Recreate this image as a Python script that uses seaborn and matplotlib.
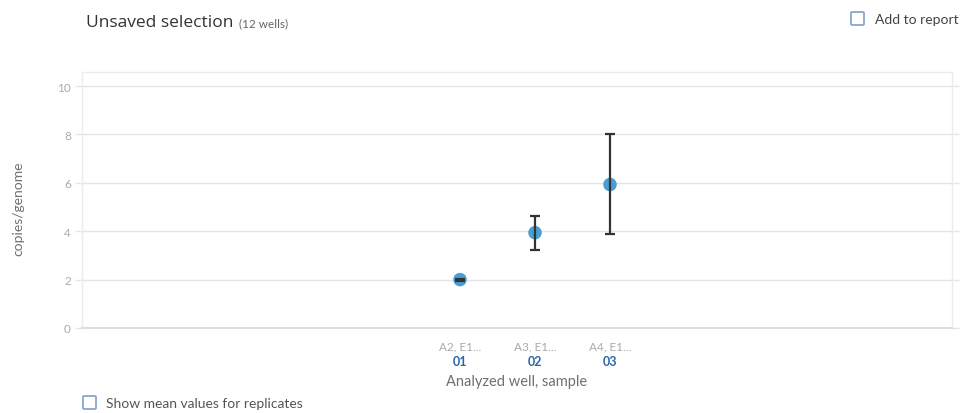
import numpy as np
import matplotlib.pyplot as plt
import seaborn as sns
import pandas as pd
from matplotlib.patches import FancyBboxPatch

# values
wells = ["A2, E1...", "A3, E1...", "A4, E1..."]
samples = ["01", "02", "03"]
copies = [2.0, 3.94, 5.93]
err_low = [1.96, 3.22, 3.87]
err_high = [2.04, 4.64, 8.02]
y_ticks = [0, 2, 4, 6, 8, 10]

df = pd.DataFrame({"well": wells, "sample": samples, "copies": copies})

sns.set_theme(style="white")
plt.rcParams['font.family'] = ['Lato', 'DejaVu Sans']

fig = plt.figure(figsize=(9.62, 4.14), dpi=100)
ax = fig.add_axes([82 / 962, 1 - 329 / 414, (952 - 82) / 962, (329 - 73) / 414])

pos = np.arange(len(wells))
sns.scatterplot(data=df, x=pos, y="copies", ax=ax, s=95, color="#4a9ed2",
                edgecolor="none", zorder=3, legend=False)
yerr = np.array([np.array(copies) - np.array(err_low),
                 np.array(err_high) - np.array(copies)])
ax.errorbar(pos, copies, yerr=yerr, fmt="none", ecolor="#333333",
            elinewidth=1.6, capsize=3.5, capthick=1.6, zorder=4)

ax.set_xlim(-5.04, 6.56)
ax.set_ylim(0, 10.58)
ax.set_yticks(y_ticks)
ax.set_yticklabels([str(t) for t in y_ticks])
ax.grid(axis="y", color="#e4e4ea", linewidth=1)
ax.set_axisbelow(True)
for side in ["left", "right", "top"]:
    ax.spines[side].set_color("#ececf0")
    ax.spines[side].set_linewidth(1)
ax.spines["bottom"].set_color("#dcdce4")
ax.spines["bottom"].set_linewidth(1.4)

ax.tick_params(axis="y", which="both", left=True, right=True, length=5,
               width=1, color="#e4e4ea", labelcolor="#aaaaaa", labelsize=8.5, pad=3)
ax.set_xticks(pos)
ax.set_xticklabels(wells)
ax.tick_params(axis="x", bottom=False, length=0, labelcolor="#aaaaaa",
               labelsize=8.5, pad=9)

for p, s in zip(pos, samples):
    ax.text(p, -0.127, s, transform=ax.get_xaxis_transform(), ha="center", va="center",
            color="#2b65ad", fontsize=9, fontweight="bold")

ax.set_xlabel("Analyzed well, sample", color="#707070", fontsize=10.5)
ax.xaxis.set_label_coords(0.5, -0.178)
ax.set_ylabel("copies/genome", color="#707070", fontsize=10)
ax.yaxis.set_label_coords(-0.066, 0.47)

# header and footer texts
fig.text(86 / 962, 1 - 23 / 414, "Unsaved selection", ha="left", va="center",
         fontsize=12.5, color="#333333", family=["Open Sans", "DejaVu Sans"])
fig.text(239 / 962, 1 - 23.5 / 414, "(12 wells)", ha="left", va="center",
         fontsize=8.5, color="#666666")
fig.text(875 / 962, 1 - 20 / 414, "Add to report", ha="left", va="center",
         fontsize=10, color="#444444")
fig.text(106 / 962, 1 - 404 / 414, "Show mean values for replicates", ha="left",
         va="center", fontsize=10, color="#555555")


def checkbox(x0, y0, size=13):
    box = FancyBboxPatch((x0 / 962, 1 - (y0 + size) / 414), size / 962, size / 414,
                         boxstyle="round,pad=0,rounding_size=0.002",
                         transform=fig.transFigure, facecolor="white",
                         edgecolor="#7f9fc8", linewidth=1.2)
    fig.patches.append(box)


checkbox(851, 13)
checkbox(83, 397)

fig.savefig("out.png", dpi=100)
